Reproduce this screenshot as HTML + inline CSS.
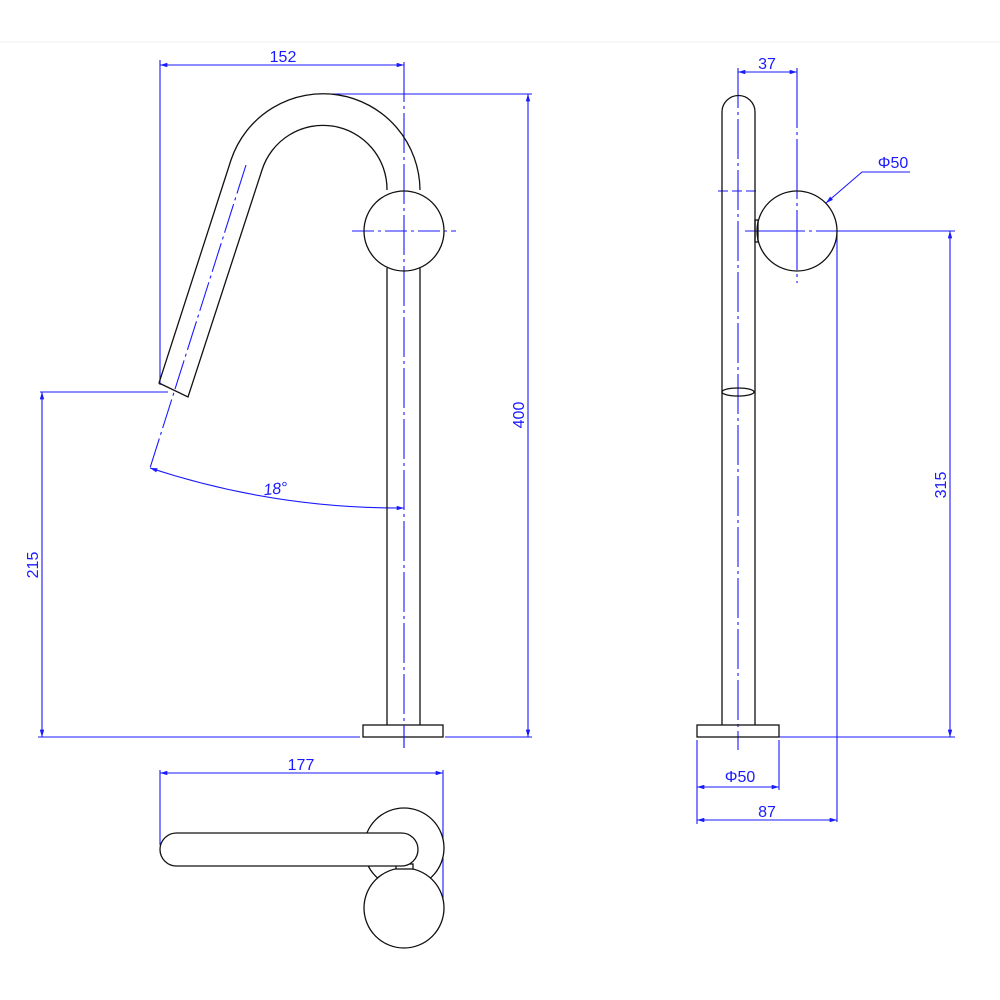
<!DOCTYPE html>
<html><head><meta charset="utf-8"><style>
html,body{margin:0;padding:0;background:#fff}
svg{display:block}
text{font-family:"Liberation Sans",sans-serif;fill:#1a1aff;font-size:16px}
</style></head><body>
<svg width="1000" height="1000" viewBox="0 0 1000 1000" xmlns="http://www.w3.org/2000/svg">
<defs>
<marker id="a" viewBox="0 0 10 6" refX="10" refY="3" markerWidth="7" markerHeight="4" orient="auto-start-reverse"><path d="M0 0L10 3L0 6z" fill="#1a1aff"/></marker>
</defs>
<line x1="0" y1="42" x2="1000" y2="42" stroke="#f0f0f0"/>
<g stroke="#1a1aff" stroke-width="1.1" fill="none">
<line x1="160" y1="60" x2="160" y2="385"/>
<line x1="160" y1="65" x2="404" y2="65" marker-start="url(#a)" marker-end="url(#a)"/>
<line x1="327" y1="94" x2="532" y2="94"/>
<line x1="528" y1="94" x2="528" y2="737" marker-start="url(#a)" marker-end="url(#a)"/>
<line x1="40" y1="392" x2="168" y2="392"/>
<line x1="42" y1="392" x2="42" y2="737" marker-start="url(#a)" marker-end="url(#a)"/>
<line x1="38" y1="737" x2="360" y2="737"/>
<line x1="445" y1="737" x2="532" y2="737"/>
<line x1="404" y1="62" x2="404" y2="748" stroke-dasharray="40 4 3 4"/>
<line x1="352" y1="231" x2="456" y2="231" stroke-dasharray="22 4 3 4"/>
<line x1="246" y1="165" x2="150" y2="468" stroke-dasharray="30 4 3 4"/>
<path d="M150 468 A800 800 0 0 0 404 508" marker-start="url(#a)" marker-end="url(#a)"/>
<line x1="738" y1="68" x2="738" y2="750" stroke-dasharray="40 4 3 4"/>
<line x1="797" y1="68" x2="797" y2="283" stroke-dasharray="60 4 3 4"/>
<line x1="738" y1="72" x2="797" y2="72" marker-start="url(#a)" marker-end="url(#a)"/>
<line x1="718" y1="191" x2="757" y2="191" stroke-dasharray="10 4"/>
<line x1="745" y1="231" x2="955" y2="231" stroke-dasharray="60 4 3 4 200"/>
<line x1="950" y1="231" x2="950" y2="737" marker-start="url(#a)" marker-end="url(#a)"/>
<line x1="779" y1="737" x2="955" y2="737"/>
<line x1="837" y1="231" x2="837" y2="822"/>
<polyline points="826,203 862,172 910,172" marker-start="url(#a)"/>
<line x1="697" y1="740" x2="697" y2="824"/>
<line x1="779" y1="740" x2="779" y2="790"/>
<line x1="697" y1="787" x2="779" y2="787" marker-start="url(#a)" marker-end="url(#a)"/>
<line x1="697" y1="820" x2="837" y2="820" marker-start="url(#a)" marker-end="url(#a)"/>
<line x1="160" y1="770" x2="160" y2="845"/>
<line x1="443" y1="770" x2="443" y2="905"/>
<line x1="160" y1="773" x2="443" y2="773" marker-start="url(#a)" marker-end="url(#a)"/>
</g>
<g stroke="#111" stroke-width="1.3" fill="none">
<path d="M420 190 A97 97 0 0 0 231 160 L159 383 L188 397 L262 170 A64 64 0 0 1 387 190"/>
<line x1="387" y1="268" x2="387" y2="725"/>
<line x1="420" y1="268" x2="420" y2="725"/>
<circle cx="404" cy="231" r="40"/>
<rect x="363" y="725" width="80" height="12"/>
<path d="M722 725 L722 112 A16.5 16.5 0 0 1 755 112 L755 725"/>
<ellipse cx="738" cy="392" rx="16" ry="4"/>
<circle cx="797" cy="231" r="40"/>
<rect x="755" y="220" width="3" height="22"/>
<rect x="697" y="725" width="82" height="12"/>
<circle cx="404" cy="848" r="40" fill="#fff"/>
<circle cx="404" cy="908" r="40" fill="#fff"/>
<rect x="396" y="864" width="17" height="5" fill="#fff"/>
<rect x="160" y="833" width="258" height="33" rx="16.5" fill="#fff"/>
</g>
<g stroke="#1a1aff" stroke-width="1.1"><line x1="404" y1="725" x2="404" y2="748"/></g>
<text x="283" y="62" text-anchor="middle">152</text>
<text x="767" y="69" text-anchor="middle">37</text>
<text x="893" y="168" text-anchor="middle">Φ50</text>
<text x="276" y="494" text-anchor="middle" font-style="italic" transform="rotate(-6 276 494)">18°</text>
<text x="740" y="782" text-anchor="middle">Φ50</text>
<text x="767" y="817" text-anchor="middle">87</text>
<text x="301" y="770" text-anchor="middle">177</text>
<text transform="translate(524 415) rotate(-90)" text-anchor="middle">400</text>
<text transform="translate(38 565) rotate(-90)" text-anchor="middle">215</text>
<text transform="translate(946 485) rotate(-90)" text-anchor="middle">315</text>
</svg>
</body></html>
